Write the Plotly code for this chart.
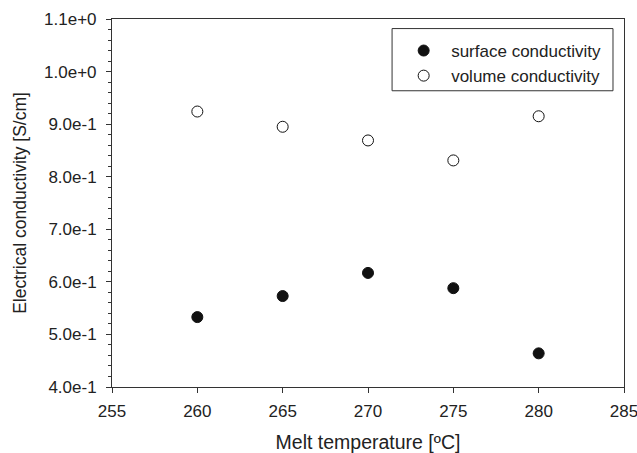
import plotly.graph_objects as go

temps = [260, 265, 270, 275, 280]
surface = [0.533, 0.573, 0.617, 0.588, 0.464]
volume = [0.924, 0.895, 0.869, 0.831, 0.915]
xtickvals = [255, 260, 265, 270, 275, 280, 285]
ytickvals = [0.4, 0.5, 0.6, 0.7, 0.8, 0.9, 1.0, 1.1]
yticktext = ["4.0e-1", "5.0e-1", "6.0e-1", "7.0e-1", "8.0e-1", "9.0e-1", "1.0e+0", "1.1e+0"]

fig = go.Figure()
fig.add_trace(go.Scatter(x=temps, y=surface, mode="markers", name="surface conductivity",
                         marker=dict(size=11, color="#111111", line=dict(color="#111111", width=1))))
fig.add_trace(go.Scatter(x=temps, y=volume, mode="markers", name="volume conductivity",
                         marker=dict(size=11, color="white", line=dict(color="#111111", width=1))))

font = "Liberation Sans, Arial, sans-serif"
ink = "#222222"
fig.update_layout(
    width=637, height=453,
    margin=dict(l=112, r=13, t=19, b=66),
    paper_bgcolor="white", plot_bgcolor="white",
    font=dict(family=font, size=17, color=ink),
    showlegend=True,
    legend=dict(x=0.555, y=0.962, xanchor="left", yanchor="top",
                borderwidth=0, bgcolor="rgba(0,0,0,0)",
                font=dict(size=17), itemwidth=45, tracegroupgap=0),
    shapes=[dict(type="rect", xref="paper", yref="paper", x0=0.547, x1=0.9785, y0=0.805, y1=0.974,
                 line=dict(color="#333333", width=1), fillcolor="rgba(0,0,0,0)", layer="below")],
    xaxis=dict(range=[255, 285], tickvals=xtickvals, automargin=False, ticklabeloverflow="allow",
               ticks="outside", ticklen=5, tickcolor="#333333", ticklabelstandoff=4,
               showline=True, linecolor="#333333", linewidth=1, mirror=True,
               showgrid=False, zeroline=False, tickfont=dict(size=17),
               title=dict(text="Melt temperature [ºC]", font=dict(size=19.5), standoff=14)),
    yaxis=dict(range=[0.4, 1.1], tickvals=ytickvals, ticktext=yticktext, automargin=False,
               ticklabeloverflow="allow",
               ticks="outside", ticklen=5, tickcolor="#333333", ticklabelstandoff=6,
               minor=dict(dtick=0.02, tick0=0.4, ticks="outside", ticklen=3, tickcolor="#333333"),
               showline=True, linecolor="#333333", linewidth=1, mirror=True,
               showgrid=False, zeroline=False, tickfont=dict(size=17),
               title=dict(text="Electrical conductivity [S/cm]", font=dict(size=17.5), standoff=12)),
)
fig.write_html("out.html")
